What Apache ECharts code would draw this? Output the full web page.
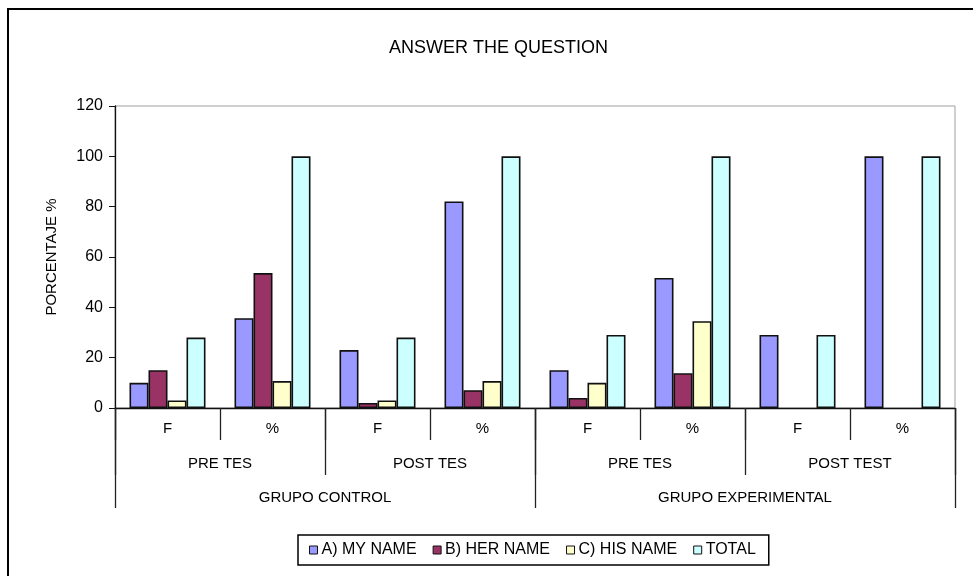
<!DOCTYPE html>
<html lang="en">
<head>
    <meta charset="utf-8">
    <title>answer the question</title>
    <script src="https://cdn.jsdelivr.net/npm/echarts@6/dist/echarts.min.js"></script>
    <style>
        html, body { margin: 0; padding: 0; background: #fff; }
    </style>
</head>
<body>
    <div id="main" style="width: 973px;height:576px;"></div>
    <script>
    // bottom level labels
    var subLabels = ['F', '%', 'F', '%', 'F', '%', 'F', '%'];
    var testLabels = ['PRE TES', 'POST TES', 'PRE TES', 'POST TEST'];
    var groupLabels = ['GRUPO CONTROL', 'GRUPO EXPERIMENTAL'];

    var seriesNames = ['A) MY NAME', 'B) HER NAME', 'C) HIS NAME', 'TOTAL'];
    var myName  = [10, 35.7, 23, 82.1, 15, 51.7, 29, 100];
    var herName = [15, 53.6, 2, 7.1, 4, 13.8, null, null];
    var hisName = [3, 10.7, 3, 10.7, 10, 34.5, null, null];
    var total   = [28, 100, 28, 100, 29, 100, 29, 100];
    var colors = ['#9999ff', '#993366', '#ffffcc', '#ccffff'];

    var font = 'Liberation Sans, Arial, sans-serif';
    var myChart = echarts.init(document.getElementById('main'));

    var values = [myName, herName, hisName, total];
    var series = values.map(function (v, i) {
        return {
            name: seriesNames[i],
            type: 'bar',
            xAxisIndex: 0,
            data: v,
            barWidth: 19,
            barGap: '0%',
            itemStyle: {
                color: colors[i],
                borderColor: '#111',
                borderWidth: 1.6
            },
            emphasis: { disabled: true }
        };
    });

    function levelAxis(data, tickLen, margin) {
        return {
            type: 'category',
            position: 'bottom',
            data: data,
            axisLine: { show: false },
            axisTick: {
                show: true,
                length: tickLen,
                interval: 0,
                lineStyle: { color: '#222', width: 1.3 }
            },
            axisLabel: {
                interval: 0,
                margin: margin,
                color: '#000',
                fontFamily: font,
                fontSize: 15
            }
        };
    }

    var xFirst = levelAxis(subLabels, 32, 13);
    xFirst.axisLine = { show: true, lineStyle: { color: '#111', width: 1.3 } };

    var option = {
        animation: false,
        backgroundColor: '#fff',
        title: {
            text: 'ANSWER THE QUESTION',
            left: 384,
            top: 34,
            textStyle: {
                fontFamily: font,
                fontSize: 18,
                fontWeight: 'normal',
                color: '#000'
            }
        },
        legend: {
            data: seriesNames,
            left: 298,
            top: 535,
            padding: [7, 13, 7, 11],
            itemWidth: 8,
            itemHeight: 8,
            itemGap: 16,
            icon: 'rect',
            borderColor: '#000',
            borderWidth: 1.5,
            textStyle: {
                fontFamily: font,
                fontSize: 16,
                color: '#000',
                padding: [0, 0, 0, -1]
            },
            itemStyle: { borderColor: '#111', borderWidth: 1 }
        },
        grid: {
            left: 115,
            right: 18,
            top: 106,
            bottom: 168,
            show: true,
            borderColor: '#a0a0a0',
            borderWidth: 1,
            backgroundColor: '#fff'
        },
        xAxis: [
            xFirst,
            levelAxis(testLabels, 67, 48),
            levelAxis(groupLabels, 100, 82)
        ],
        yAxis: {
            type: 'value',
            min: 0,
            max: 120,
            interval: 20,
            name: 'PORCENTAJE %',
            nameLocation: 'middle',
            nameGap: 56,
            nameTextStyle: {
                fontFamily: font,
                fontSize: 15,
                color: '#000'
            },
            axisLine: { show: true, lineStyle: { color: '#111', width: 1.3 } },
            axisTick: { show: true, length: 6, lineStyle: { color: '#111' } },
            splitLine: { show: false },
            axisLabel: {
                margin: 12,
                color: '#000',
                fontFamily: font,
                fontSize: 16
            }
        },
        graphic: [{
            type: 'rect',
            shape: { x: 8, y: 9, width: 1000, height: 1000 },
            style: { fill: null, stroke: '#000', lineWidth: 2 },
            silent: true
        }],
        series: series
    };
    myChart.setOption(option);
    </script>
</body>
</html>
